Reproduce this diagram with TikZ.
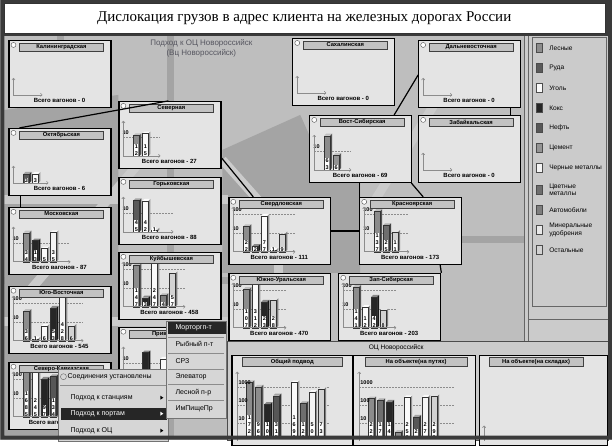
\documentclass[tikz,border=0pt]{standalone}
\usepackage{fontspec}
\setmainfont{Liberation Serif}
\setsansfont{Liberation Sans}
\usetikzlibrary{calc,arrows.meta}

\definecolor{frame}{HTML}{3A3A3A}
\definecolor{mapbg}{HTML}{BEBEBE}
\definecolor{mapdark}{HTML}{A4A4A4}
\definecolor{maplight}{HTML}{CBCBCB}
\definecolor{boxbg}{HTML}{E4E4E4}
\definecolor{barbg}{HTML}{C2C2C2}
\definecolor{panelbg}{HTML}{CBCBCB}
\definecolor{menubg}{HTML}{D6D6D6}
\definecolor{hdrtext}{HTML}{55555F}
% cargo colours
\definecolor{lesn}{HTML}{8C8C8C}
\definecolor{ruda}{HTML}{5A5A5A}
\definecolor{ugol}{HTML}{FAFAFA}
\definecolor{koks}{HTML}{262626}
\definecolor{neft}{HTML}{575757}
\definecolor{cem}{HTML}{949494}
\definecolor{chern}{HTML}{F4F4F4}
\definecolor{cvet}{HTML}{6E6E6E}
\definecolor{avto}{HTML}{7E7E7E}
\definecolor{miner}{HTML}{E8E8E8}
\definecolor{ost}{HTML}{D2D2D2}

\newcount\dgn
\def\dec{19}
% one 3d bar: x, base, value, colour, digits
\newcommand{\cbar}[5]{%
  \pgfmathsetmacro\bh{max(2,\dec*log10(#3))}%
  \fill[#4!55!white] (#1,#2-\bh) -- ++(2,-2) -- ++(6,0) -- ++(-2,2) -- cycle;
  \fill[#4!60!black] (#1+6,#2) -- ++(0,-\bh) -- ++(2,-2) -- ++(0,\bh) -- cycle;
  \draw[barline, fill=#4] (#1,#2) rectangle ++(6,-\bh);
  \global\advance\dgn by 1
  \node[digit] (dg\the\dgn) at (#1+3,#2) {#5};
}
% one railway box: name, x, y, title, total, scale level, axis end, bars
\newcommand{\station}[8]{%
  \node[stbox, anchor=north west] (#1) at (#2,#3) {};
  \begin{scope}[shift={(#2,#3)}]
    \ifcase#6 \def\axtop{38}\or\def\axtop{20}\else\def\axtop{10}\fi
    \ifnum#6>0 \draw[gridln] (5,36) -- (#7,36); \node[ticklbl] (#1-s1) at (4,32) {10};\fi
    \ifnum#6>1 \draw[gridln] (5,17) -- (#7,17); \node[ticklbl] (#1-s2) at (4,13) {100};\fi
    \begin{scope}
      \clip (1,12) rectangle (101,66);
      \if\relax\detokenize{#8}\relax\else
        \foreach \val/\col/\dg [count=\i] in {#8} {\cbar{6+9*\i}{55}{\val}{\col}{\dg}}
      \fi
    \end{scope}
    \draw[axln] (5,55) -- (5,\axtop);
    \draw[axln] (5,55) -- (#7,55);
    \node[stdot] (#1-o) at (5,5) {};
    \node[sttitle] (#1-t) at (53,7) {#4};
    \if\relax\detokenize{#5}\relax\else
      \node[sttotal] (#1-n) at (51,61) {Всего вагонов - #5};
    \fi
  \end{scope}
}

\begin{document}
\begin{tikzpicture}[x=1pt,y=-1pt]
  \tikzstyle{stbox} = [draw=black, line width=1.2pt, fill=boxbg, minimum width=102, minimum height=67, inner sep=0];
  \tikzstyle{stdot} = [circle, draw=black!70, fill=white, minimum size=5, inner sep=0];
  \tikzstyle{sttitle} = [draw=black!75, fill=barbg, minimum width=84, minimum height=8, inner sep=0, font=\sffamily\bfseries\fontsize{5.8}{6}\selectfont];
  \tikzstyle{sttotal} = [inner sep=0, font=\sffamily\bfseries\fontsize{6}{6}\selectfont];
  \tikzstyle{ticklbl} = [anchor=west, inner sep=0, font=\sffamily\bfseries\fontsize{5.5}{6}\selectfont];
  \tikzstyle{digit} = [anchor=south, align=center, fill=white, inner sep=0.4pt, font=\sffamily\bfseries\fontsize{5.5}{6.8}\selectfont];
  \tikzstyle{barline} = [draw=black!80, line width=0.3pt];
  \tikzstyle{gridln} = [black!45, line width=0.3pt, dash pattern=on 1.5pt off 1.5pt];
  \tikzstyle{axln} = [black!45, line width=0.6pt, -{To[length=2.2pt,width=3.6pt]}];
  \tikzstyle{link} = [black, line width=1.2pt];
  \tikzstyle{trackl} = [maplight, line width=9pt];
  \tikzstyle{trackd} = [mapdark, line width=7pt];
  \tikzstyle{panel} = [draw=black!70, line width=0.6pt, fill=panelbg, inner sep=0];
  \tikzstyle{subpanel} = [draw=black, line width=1.2pt, fill=boxbg, inner sep=0];
  \tikzstyle{swatch} = [draw=black!70, line width=0.4pt, minimum width=6, minimum height=9, inner sep=0];
  \tikzstyle{legtxt} = [anchor=west, align=left, inner sep=0, font=\sffamily\fontsize{6.6}{7.4}\selectfont];
  \tikzstyle{menubox} = [draw=black!55, line width=0.6pt, fill=menubg, inner sep=0];
  \tikzstyle{menutxt} = [anchor=west, inner sep=0, font=\sffamily\fontsize{7}{8}\selectfont];
  \tikzstyle{menusep} = [black!45, line width=0.4pt];
  \tikzstyle{hilite} = [fill=black!85, inner sep=0];

  % map background and tracks
  \fill[mapbg] (0,0) rectangle (612,440);
  \fill[mapdark] (222,150) -- (300,115) -- (330,182) -- (360,182) -- (360,273) -- (222,273) -- cycle;
  \fill[mapdark] (4,110) -- (118,95) -- (118,436) -- (4,436) -- cycle;
  \draw[trackd] (60,36) -- (60,436);
  \draw[trackd] (170,36) -- (170,436);
  \draw[trackl] (4,200) -- (228,200);
  \draw[trackd] (4,281) -- (228,281);
  \draw[trackl] (4,322) -- (228,322);
  \draw[trackl] (30,290) -- (150,150);
  \draw[trackl] (222,160) -- (262,205);
  \draw[trackl] (278,255) -- (278,280);
  \draw[trackl] (440,95) -- (375,200);
  \draw[trackd] (300,240) -- (524,240);
  \node[align=center, inner sep=0, text=hdrtext, font=\sffamily\fontsize{8}{10}\selectfont] (hdr) at (201,48) {Подход к ОЦ Новороссийск\\(Вц Новороссийск)};

  % railways
  \station{kalin}{8}{40}{Калининградская}{0}{0}{34}{}
  \station{sever}{118}{101}{Северная}{27}{1}{42}{12/lesn/{1\\2}, 15/ugol/{1\\5}}
  \station{oktyabr}{8}{128}{Октябрьская}{6}{0}{40}{3/ruda/3, 3/ugol/3}
  \station{gorky}{118}{177}{Горьковская}{88}{1}{55}{45/ruda/{4\\5}, 42/ugol/{4\\2}, 1/ost/1}
  \station{moskva}{8}{207}{Московская}{87}{1}{62}{34/lesn/{3\\4}, 13/koks/{1\\3}, 5/ugol/5, 35/chern/{3\\5}}
  \station{kuib}{118}{252}{Куйбышевская}{458}{2}{67}{147/lesn/{1\\4\\7}, 3/koks/3, 247/ugol/{2\\4\\7}, 4/avto/4, 57/ost/{5\\7}}
  \station{yugo}{8}{286}{Юго-Восточная}{545}{2}{75}{36/lesn/{3\\6}, 1/ugol/1, 6/ugol/6, 53/koks/{5\\3}, 428/chern/{4\\2\\8}, 6/ost/6}
  \station{privol}{118}{327}{Приволжская}{}{1}{60}{2/lesn/{}, 34/koks/{}, 2/ugol/{}, 16/ugol/{}}
  \station{sevkav}{8}{362}{Северо-Кавказская}{2161}{2}{80}{1685/lesn/{1\\6\\8\\5}, 245/ugol/{2\\4\\5}, 97/koks/{9\\7}, 134/neft/{1\\3\\4}}
  \station{sakh}{292}{38}{Сахалинская}{0}{0}{34}{}
  \station{dalnev}{418}{40}{Дальневосточная}{0}{0}{34}{}
  \station{vostsib}{309}{115}{Вост-Сибирская}{69}{1}{42}{63/lesn/{6\\3}, 6/cem/6}
  \station{zabaik}{418}{115}{Забайкальская}{0}{0}{34}{}
  \station{sverd}{228}{197}{Свердловская}{111}{2}{67}{22/lesn/{2\\2}, 2/koks/2, 77/ugol/{7\\7}, 1/ugol/1, 9/ost/9}
  \station{krasn}{359}{197}{Красноярская}{173}{2}{50}{137/lesn/{1\\3\\7}, 25/cvet/{2\\5}, 11/ost/{1\\1}}
  \station{yuzhur}{228}{273}{Южно-Уральская}{470}{2}{58}{107/lesn/{1\\0\\7}, 312/ugol/{3\\1\\2}, 23/koks/{2\\3}, 28/ost/{2\\8}}
  \station{zapsib}{338}{273}{Зап-Сибирская}{203}{2}{58}{141/lesn/{1\\4\\1}, 12/ugol/{1\\2}, 42/koks/{4\\2}, 8/ost/8}

  % links between railways
  \draw[link] ($(sever.north west)+(50,0)$) -- ($(oktyabr.north west)+(11,0)$);
  \draw[link] ($(sever.north east)+(0,57)$) -- ($(sverd.north west)+(25,0)$);
  \draw[link] ($(oktyabr.south west)+(12,0)$) -- ($(moskva.north west)+(12,0)$);
  \draw[link] ($(dalnev.north west)+(0,35)$) -- ($(vostsib.north west)+(85,0)$);
  \draw[link] ($(dalnev.south east)+(-11,0)$) -- ($(zabaik.north east)+(-11,0)$);
  \draw[link] (sverd.east) -| ($(vostsib.south west)+(50,0)$);
  \draw[link] ($(vostsib.south east)+(-1,0)$) -- ($(krasn.north west)+(64,0)$);
  \draw[link] ($(krasn.south west)+(81,0)$) -- (zapsib.north east);

  % legend column
  \fill[panelbg] (524,36) rectangle (608,341);
  \draw[black!60, line width=0.5pt] (524,36) -- (524,341) (528,36) -- (528,341);
  \node[draw=black!60, line width=0.5pt, anchor=north west, minimum width=74, minimum height=269, inner sep=0] (legend) at (532,37) {};
  \draw[black!60, line width=0.5pt] (528,320) -- (608,320);
  \foreach \col/\txt/\yy [count=\i] in {lesn/Лесные/48, ruda/Руда/68, ugol/Уголь/88, koks/Кокс/108, neft/Нефть/128, cem/Цемент/148, chern/Черные металлы/168, cvet/{Цветные\\металлы}/190, avto/Автомобили/210, miner/{Минеральные\\удобрения}/230, ost/Остальные/250} {
    \node[swatch, fill=\col] (sw\i) at (539,\yy) {};
    \node[legtxt] (lt\i) at (549,\yy) {\txt};
  }

  % OC panel
  \node[panel, anchor=north west, minimum width=381, minimum height=99] (oc) at (227,341) {};
  \node[inner sep=0, font=\sffamily\fontsize{6.6}{7}\selectfont] (oclbl) at (396,348) {ОЦ Новороссийск};
  \node[subpanel, anchor=north west, minimum width=121, minimum height=90] (obsh) at (231,355) {};
  \node[subpanel, anchor=north west, minimum width=122, minimum height=90] (puti) at (353,355) {};
  \node[subpanel, anchor=north west, minimum width=128, minimum height=90] (skl) at (479,355) {};
  \node[sttitle, minimum width=100, minimum height=9] (obsh-t) at (292,362) {Общий подвод};
  \node[sttitle, minimum width=102, minimum height=9] (puti-t) at (416,362) {На объекте(на путях)};
  \node[sttitle, minimum width=94, minimum height=9] (skl-t) at (536,362) {На объекте(на складах)};
  \begin{scope}
    \def\dec{18}
    \clip (232,367) rectangle (351,436);
    \draw[gridln] (237,387) -- (330,387) (237,405) -- (330,405) (237,423) -- (330,423);
    \foreach \val/\col/\dg [count=\i] in {1722/lesn/{1\\7\\2\\2}, 968/lesn/{9\\6\\8}, 106/koks/{1\\0\\6}, 315/neft/{3\\1\\5}, 1/ugol/{}, 1690/ugol/{1\\6\\9\\0}, 120/cvet/{1\\2\\0}, 502/chern/{5\\0\\2}, 734/ost/{7\\3\\4}}
      {\cbar{237+9*\i}{441}{\val}{\col}{\dg}}
  \end{scope}
  \begin{scope}
    \def\dec{18}
    \clip (354,367) rectangle (474,436);
    \draw[gridln] (359,387) -- (455,387) (359,405) -- (455,405) (359,423) -- (455,423);
    \foreach \val/\col/\dg [count=\i] in {220/lesn/{2\\2\\0}, 174/cvet/{1\\7\\4}, 142/koks/{1\\4\\2}, 3/lesn/{}, 256/ugol/{2\\5\\6}, 21/neft/{2\\1}, 271/chern/{2\\7\\1}, 290/ost/{2\\9\\0}}
      {\cbar{359+9*\i}{441}{\val}{\col}{\dg}}
  \end{scope}
  \draw[axln] (237,441) -- (237,372);
  \draw[axln] (359,441) -- (359,372);
  \draw[axln] (484,441) -- (484,426);
  \node[ticklbl] (obsh-s3) at (238,383) {1000};
  \node[ticklbl] (obsh-s2) at (238,401) {100};
  \node[ticklbl] (obsh-s1) at (238,419) {10};
  \node[ticklbl] (puti-s3) at (360,383) {1000};
  \node[ticklbl] (puti-s2) at (360,401) {100};
  \node[ticklbl] (puti-s1) at (360,419) {10};

  % context menu
  \node[menubox, anchor=north west, minimum width=110, minimum height=72] (menu) at (58,369) {};
  \node[circle, draw=black!60, fill=menubg, minimum size=6, inner sep=0] (m0) at (63,377) {};
  \node[menutxt] (m1) at (67,377) {Соединения установлены};
  \draw[menusep] (60,386) -- (166,386);
  \node[menutxt] (m2) at (70,398) {Подход к станциям};
  \node[hilite, anchor=north west, minimum width=106, minimum height=12] (m3h) at (60,408) {};
  \node[menutxt, text=white] (m3) at (70,414) {Подход к портам};
  \node[menutxt] (m4) at (70,431) {Подход к ОЦ};
  \fill[black] (160,396) -- ++(3,2) -- ++(-3,2) -- cycle;
  \fill[white] (160,412) -- ++(3,2) -- ++(-3,2) -- cycle;
  \fill[black] (160,429) -- ++(3,2) -- ++(-3,2) -- cycle;

  % sub menu
  \node[menubox, anchor=north west, minimum width=60, minimum height=97] (sub) at (166,321) {};
  \node[hilite, anchor=north west, minimum width=58, minimum height=12] (s1h) at (167,322) {};
  \node[menutxt, text=white] (s1) at (175,328) {Морторгп-т};
  \node[menutxt] (s2) at (175,344) {Рыбный п-т};
  \node[menutxt] (s3) at (175,361) {СРЗ};
  \node[menutxt] (s4) at (175,377) {Элеватор};
  \node[menutxt] (s5) at (175,393) {Лесной п-р};
  \node[menutxt] (s6) at (175,409) {ИмПищеПр};
  \foreach \yy in {337,353,369,385,401}
    \draw[menusep] (168,\yy) -- (224,\yy);

  % frame and title
  \fill[frame, even odd rule] (0,0) rectangle (612,440) (4,36) rectangle (608,436);
  \node[fill=white, draw=black!80, line width=0.5pt, anchor=north west, minimum width=601, minimum height=30, inner sep=0] (titlebox) at (4,3) {};
  \node[inner sep=0, font=\fontsize{15}{16}\selectfont] (title) at (304,18) {Дислокация грузов в адрес клиента на железных дорогах России};
  \useasboundingbox (0,0) rectangle (612,440);
\end{tikzpicture}
\end{document}
